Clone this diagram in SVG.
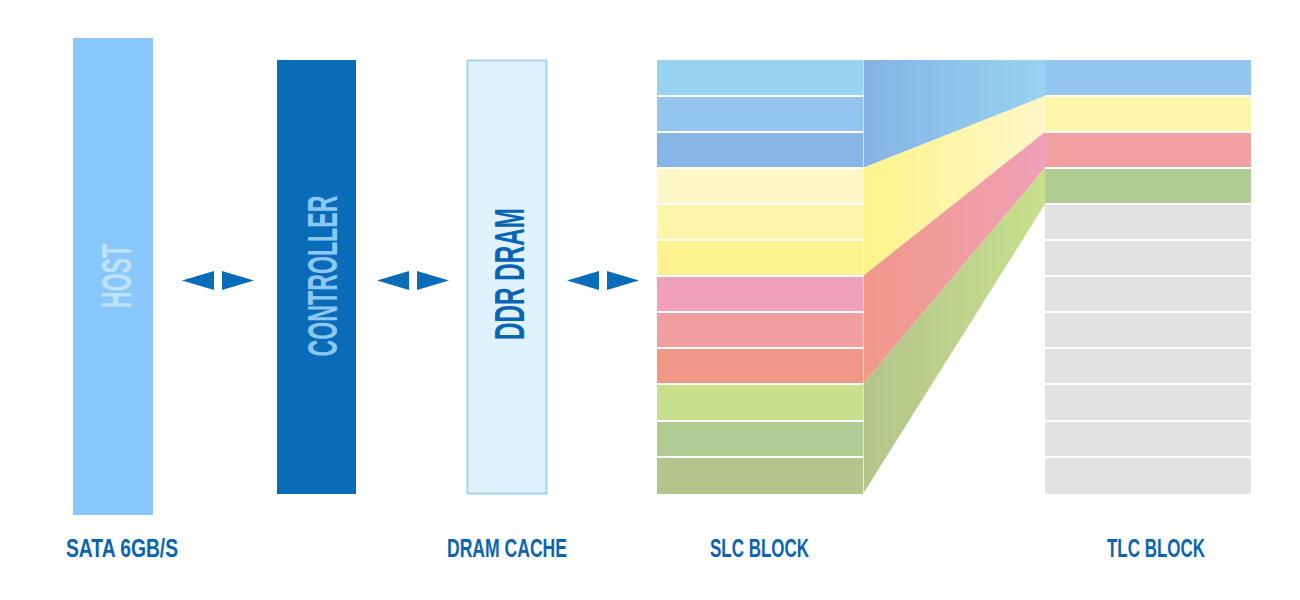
<svg xmlns="http://www.w3.org/2000/svg" width="1300" height="600" viewBox="0 0 1300 600">
<style>
.lbl{font-family:"Liberation Sans",Arial,sans-serif;font-weight:bold;font-size:26px;fill:#0a64b4}
.vt{font-family:"Liberation Sans",Arial,sans-serif;font-weight:bold;font-size:43px}
.arr{fill:#0a6bb8}
.sep{stroke:#ffffff;stroke-width:2}
</style>
<defs>
<linearGradient id="gBlue" x1="0" y1="0" x2="1" y2="0"><stop offset="0" stop-color="#84b3e4"/><stop offset="1" stop-color="#98d3f0"/></linearGradient>
<linearGradient id="gYel" x1="0" y1="0" x2="1" y2="0"><stop offset="0" stop-color="#fef48a"/><stop offset="1" stop-color="#fef7c8"/></linearGradient>
<linearGradient id="gRed" x1="0" y1="0" x2="1" y2="0"><stop offset="0" stop-color="#f09888"/><stop offset="1" stop-color="#f0a0b8"/></linearGradient>
<linearGradient id="gGrn" x1="0" y1="0" x2="1" y2="0"><stop offset="0" stop-color="#b4c48c"/><stop offset="1" stop-color="#c8e08c"/></linearGradient>
</defs>
<rect width="1300" height="600" fill="#ffffff"/>

<g id="host">
<rect x="73" y="38" width="80" height="477" fill="#88c8fc"/>
<text class="vt" fill="#c0e2fd" transform="translate(131,276) rotate(-90)" text-anchor="middle" textLength="64" lengthAdjust="spacingAndGlyphs">HOST</text>
</g>
<g id="controller">
<rect x="277" y="60" width="79" height="434" fill="#0a6bb8"/>
<text class="vt" fill="#8cc8f4" transform="translate(337,276) rotate(-90)" text-anchor="middle" textLength="161" lengthAdjust="spacingAndGlyphs">CONTROLLER</text>
</g>
<g id="dram">
<rect x="467.5" y="60.5" width="79" height="433" fill="#dff2fe" stroke="#a8d2f0" stroke-width="2"/>
<text class="vt" fill="#0a64b4" transform="translate(524,274) rotate(-90)" text-anchor="middle" textLength="132" lengthAdjust="spacingAndGlyphs">DDR DRAM</text>
</g>

<g id="connectors">
<polygon class="arr" points="182,280.5 214,271 214,290"/>
<polygon class="arr" points="254,280.5 222,271 222,290"/>
<polygon class="arr" points="377,280.5 409,271 409,290"/>
<polygon class="arr" points="449,280.5 417,271 417,290"/>
<polygon class="arr" points="567,280.5 599,271 599,290"/>
<polygon class="arr" points="639,280.5 607,271 607,290"/>
</g>

<g id="slc">
<rect x="657" y="60" width="206" height="36" fill="#98d3f0"/>
<rect x="657" y="96" width="206" height="36" fill="#94c5ee"/>
<rect x="657" y="132" width="206" height="36" fill="#86b4e4"/>
<rect x="657" y="168" width="206" height="36" fill="#fef7c8"/>
<rect x="657" y="204" width="206" height="36" fill="#fef5a8"/>
<rect x="657" y="240" width="206" height="36" fill="#fef38e"/>
<rect x="657" y="276" width="206" height="36" fill="#f0a0b8"/>
<rect x="657" y="312" width="206" height="36" fill="#f09ea0"/>
<rect x="657" y="348" width="206" height="36" fill="#f09888"/>
<rect x="657" y="384" width="206" height="37" fill="#c8e08c"/>
<rect x="657" y="421" width="206" height="36" fill="#b0cc94"/>
<rect x="657" y="457" width="206" height="37" fill="#b4c48c"/>
<g class="sep">
<line x1="657" y1="96" x2="863" y2="96"/><line x1="657" y1="132" x2="863" y2="132"/>
<line x1="657" y1="168" x2="863" y2="168"/><line x1="657" y1="204" x2="863" y2="204"/>
<line x1="657" y1="240" x2="863" y2="240"/><line x1="657" y1="276" x2="863" y2="276"/>
<line x1="657" y1="312" x2="863" y2="312"/><line x1="657" y1="348" x2="863" y2="348"/>
<line x1="657" y1="384" x2="863" y2="384"/><line x1="657" y1="421" x2="863" y2="421"/>
<line x1="657" y1="457" x2="863" y2="457"/>
</g>
</g>

<g id="transition">
<polygon points="863,60 1045,60 1045,96 863,168" fill="url(#gBlue)"/>
<polygon points="863,168 1045,96 1045,132 863,276" fill="url(#gYel)"/>
<polygon points="863,276 1045,132 1045,168 863,384" fill="url(#gRed)"/>
<polygon points="863,384 1045,168 1045,204 863,494" fill="url(#gGrn)"/>
<line x1="863.5" y1="60" x2="863.5" y2="494" stroke="#ffffff" stroke-width="1" opacity="0.6"/>
</g>

<g id="tlc">
<rect x="1045" y="60" width="206" height="36" fill="#94c6f0"/>
<rect x="1045" y="96" width="206" height="36" fill="#fef7a8"/>
<rect x="1045" y="132" width="206" height="36" fill="#f0a0a0"/>
<rect x="1045" y="168" width="206" height="36" fill="#b0ce94"/>
<rect x="1045" y="204" width="206" height="290" fill="#e2e2e2"/>
<g class="sep">
<line x1="1045" y1="96" x2="1251" y2="96"/><line x1="1045" y1="132" x2="1251" y2="132"/>
<line x1="1045" y1="168" x2="1251" y2="168"/><line x1="1045" y1="204" x2="1251" y2="204"/>
<line x1="1045" y1="240" x2="1251" y2="240"/><line x1="1045" y1="276" x2="1251" y2="276"/>
<line x1="1045" y1="312" x2="1251" y2="312"/><line x1="1045" y1="348" x2="1251" y2="348"/>
<line x1="1045" y1="384" x2="1251" y2="384"/><line x1="1045" y1="421" x2="1251" y2="421"/>
<line x1="1045" y1="457" x2="1251" y2="457"/>
</g>
</g>

<g id="labels">
<text class="lbl" x="66" y="557" textLength="112" lengthAdjust="spacingAndGlyphs">SATA 6GB/S</text>
<text class="lbl" x="447" y="557" textLength="120" lengthAdjust="spacingAndGlyphs">DRAM CACHE</text>
<text class="lbl" x="710" y="557" textLength="99" lengthAdjust="spacingAndGlyphs">SLC BLOCK</text>
<text class="lbl" x="1107" y="557" textLength="98" lengthAdjust="spacingAndGlyphs">TLC BLOCK</text>
</g>
</svg>
